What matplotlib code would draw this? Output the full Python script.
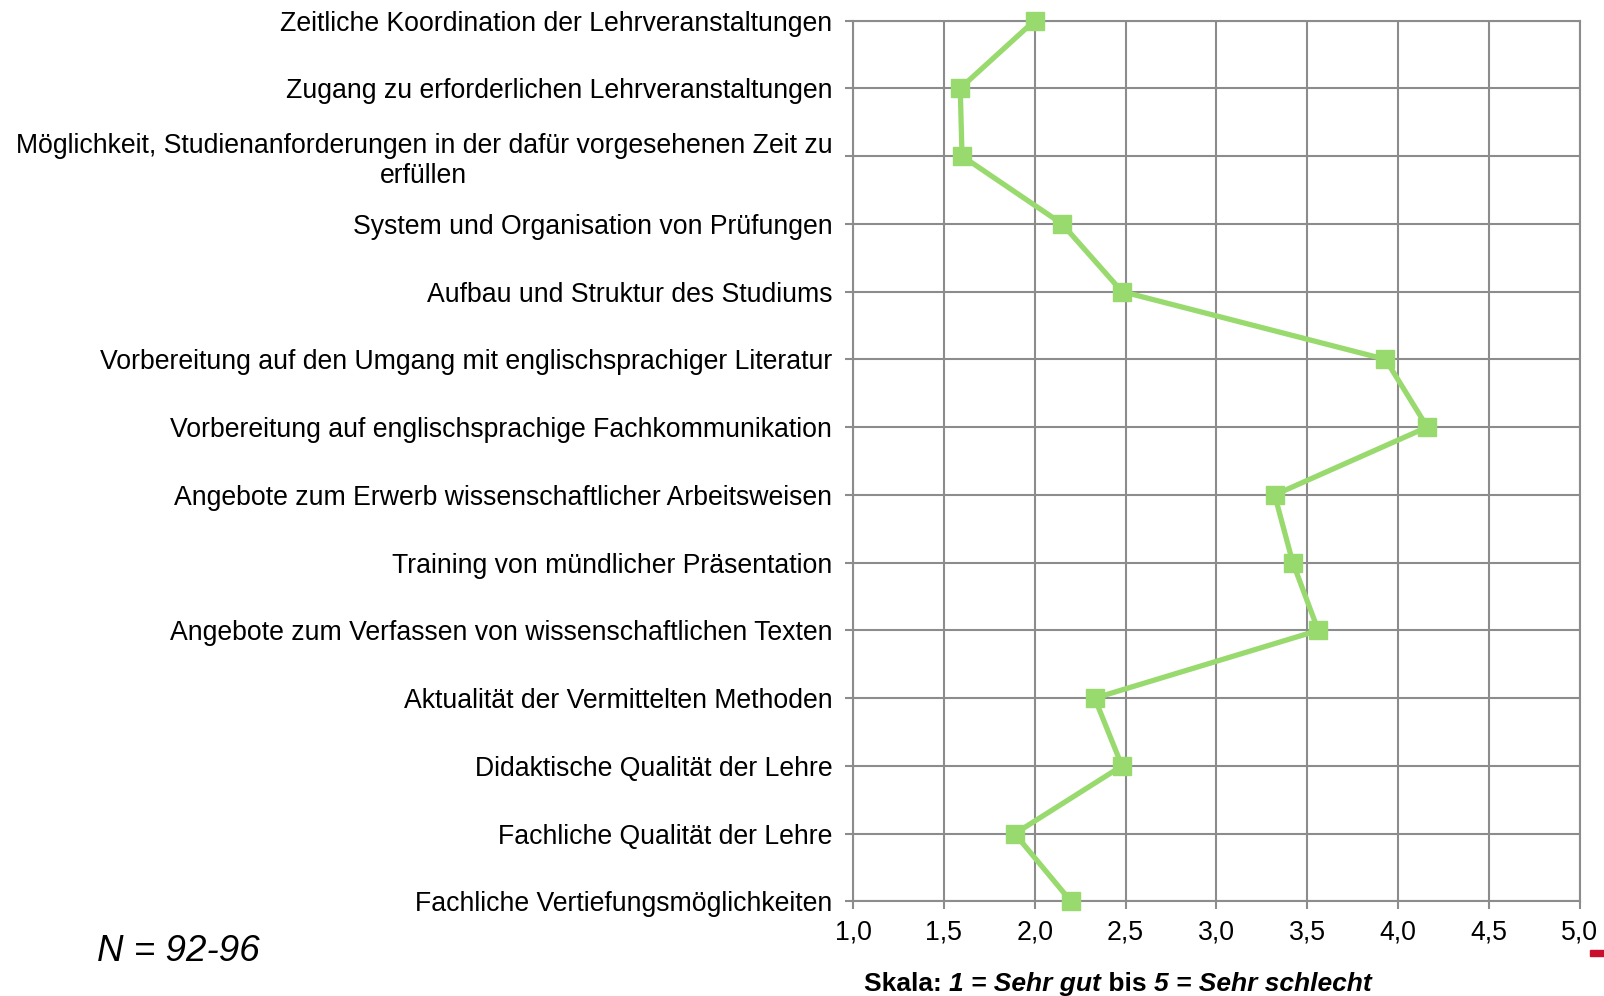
import matplotlib
matplotlib.use("Agg")
import matplotlib.pyplot as plt
import numpy as np
from matplotlib.patches import Rectangle

plt.rcParams["font.family"] = ["Liberation Sans", "DejaVu Sans"]

# items, top to bottom as shown in the chart
items = [
    "Zeitliche Koordination der Lehrveranstaltungen",
    "Zugang zu erforderlichen Lehrveranstaltungen",
    "Möglichkeit, Studienanforderungen in der dafür vorgesehenen Zeit zu\nerfüllen",
    "System und Organisation von Prüfungen",
    "Aufbau und Struktur des Studiums",
    "Vorbereitung auf den Umgang mit englischsprachiger Literatur",
    "Vorbereitung auf englischsprachige Fachkommunikation",
    "Angebote zum Erwerb wissenschaftlicher Arbeitsweisen",
    "Training von mündlicher Präsentation",
    "Angebote zum Verfassen von wissenschaftlichen Texten",
    "Aktualität der Vermittelten Methoden",
    "Didaktische Qualität der Lehre",
    "Fachliche Qualität der Lehre",
    "Fachliche Vertiefungsmöglichkeiten",
]
means = [2.0, 1.59, 1.60, 2.15, 2.48, 3.93, 4.16, 3.32, 3.42, 3.56, 2.33, 2.48, 1.89, 2.20]
x_ticks = [1.0, 1.5, 2.0, 2.5, 3.0, 3.5, 4.0, 4.5, 5.0]
x_ticklabels = ["1,0", "1,5", "2,0", "2,5", "3,0", "3,5", "4,0", "4,5", "5,0"]

GRID = "#8c8c8c"
GREEN = "#99da6e"
FS = 19.2

fig = plt.figure(figsize=(16.04, 9.96), dpi=100)
ax = fig.add_axes([0.5318, 0.0949, 0.985 - 0.5318, 0.9794 - 0.0949])

pos = np.arange(len(items))
ax.plot(means, pos, color=GREEN, lw=3.8, marker="s", markersize=12.5,
        markerfacecolor=GREEN, markeredgecolor=GREEN, clip_on=False, zorder=5)

ax.set_xlim(1.0, 5.0)
ax.set_ylim(len(items) - 1, 0)
ax.set_xticks(x_ticks)
ax.set_xticklabels(x_ticklabels)
ax.set_yticks(pos)
ax.set_yticklabels(items, multialignment="center", linespacing=1.2)

ax.grid(True, color=GRID, lw=1.5)
ax.set_axisbelow(True)
for s in ax.spines.values():
    s.set_color(GRID)
    s.set_linewidth(1.5)
ax.tick_params(axis="both", colors=GRID, length=6, width=1.5, labelcolor="black",
               labelsize=FS)
ax.tick_params(axis="x", pad=7)
ax.tick_params(axis="y", pad=9)

fig.text(0.0605, 0.045, "N = 92-96", fontsize=26.5, style="italic", va="center")

# scale note with mixed bold / bold-italic parts, chained left to right
parts = [
    ("1 = Sehr gut", "italic"),
    (" bis ", "normal"),
    ("5 = Sehr schlecht", "italic"),
]
prev = fig.text(0.5385, -0.0005, "Skala: ", fontsize=19, weight="bold", va="bottom")
for txt, st in parts:
    prev = ax.annotate(txt, xy=(1, 0), xycoords=prev, va="bottom", ha="left",
                       fontsize=19, weight="bold", style=st, annotation_clip=False)

# small red slide mark at the bottom right
fig.patches.append(Rectangle((0.9913, 0.040), 0.0087, 0.006, transform=fig.transFigure,
                             color="#c8102e", figure=fig))

fig.savefig("out.png", dpi=100)
